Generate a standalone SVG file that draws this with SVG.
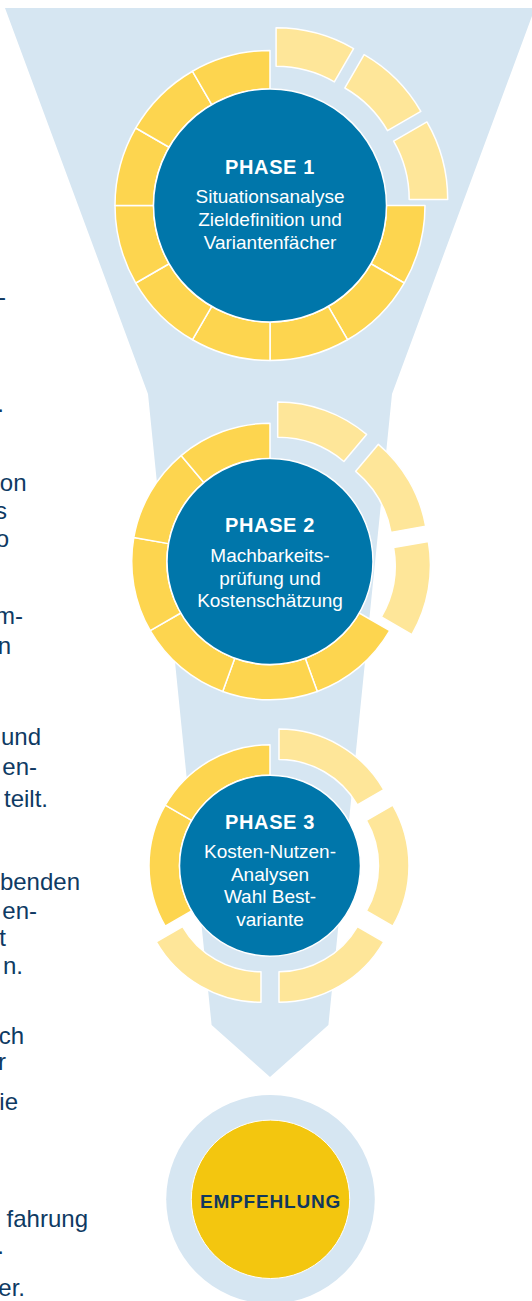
<svg xmlns="http://www.w3.org/2000/svg" xmlns:xlink="http://www.w3.org/1999/xlink" width="532" height="1301" viewBox="0 0 532 1301">
<style>
.funnel{fill:#D6E6F2}
.dark{fill:#FDD54F;stroke:#fff;stroke-width:1.5;stroke-linejoin:round}
.light{fill:#FEE699;stroke:#fff;stroke-width:1.5;stroke-linejoin:round}
.core{fill:#0076AA;stroke:#fff;stroke-width:1.5}
.title{font-family:"Liberation Sans",Arial,sans-serif;font-weight:700;font-size:20px;fill:#fff;text-anchor:middle;letter-spacing:0.6px}
.body{font-family:"Liberation Sans",Arial,sans-serif;font-size:19px;fill:#fff;text-anchor:middle}
.side{font-family:"Liberation Sans",Arial,sans-serif;font-size:24px;fill:#0E3A63;text-anchor:end}
.rec{font-family:"Liberation Sans",Arial,sans-serif;font-weight:700;font-size:19px;fill:#10385E;text-anchor:middle;letter-spacing:0.8px}
</style>
<defs>
<path id="s30" d="M-40.117,-149.719 A155,155 0 0 1 40.117,-149.719 L30.152,-112.530 A116.5,116.5 0 0 0 -30.152,-112.530 Z"/>
<path id="s40" d="M-47.302,-129.960 A138.3,138.3 0 0 1 47.302,-129.960 L35.228,-96.788 A103,103 0 0 0 -35.228,-96.788 Z"/>
<path id="s60" d="M-60.5,-104.789 A121,121 0 0 1 60.5,-104.789 L45.25,-78.375 A90.5,90.5 0 0 0 -45.25,-78.375 Z"/>
</defs>

<g id="connectors">
<path id="funnel" class="funnel" d="M5,8 H535 L392,394 L328.4,1025 L270,1077 L211.6,1025 L148,394 Z"/>
</g>

<g id="side-text">
<text class="side" x="6" y="305">-</text>
<text class="side" x="4" y="412">.</text>
<text class="side" x="26.5" y="491">on</text>
<text class="side" x="7" y="519">s</text>
<text class="side" x="9" y="547">o</text>
<text class="side" x="23" y="624">m-</text>
<text class="side" x="11" y="654">n</text>
<text class="side" x="41" y="745">und</text>
<text class="side" x="37" y="775">en-</text>
<text class="side" x="48" y="807">teilt.</text>
<text class="side" x="80" y="890">benden</text>
<text class="side" x="37" y="919">en-</text>
<text class="side" x="6" y="946">t</text>
<text class="side" x="23" y="974">n.</text>
<text class="side" x="24" y="1044">ch</text>
<text class="side" x="6" y="1070">r</text>
<text class="side" x="18" y="1110">ie</text>
<text class="side" x="88" y="1227">fahrung</text>
<text class="side" x="4" y="1254">.</text>
<text class="side" x="25" y="1296">er.</text>
</g>

<g id="phase1" transform="translate(270,205.5)">
<use xlink:href="#s30" href="#s30" class="dark" transform="rotate(105)"/>
<use xlink:href="#s30" href="#s30" class="dark" transform="rotate(135)"/>
<use xlink:href="#s30" href="#s30" class="dark" transform="rotate(165)"/>
<use xlink:href="#s30" href="#s30" class="dark" transform="rotate(195)"/>
<use xlink:href="#s30" href="#s30" class="dark" transform="rotate(225)"/>
<use xlink:href="#s30" href="#s30" class="dark" transform="rotate(255)"/>
<use xlink:href="#s30" href="#s30" class="dark" transform="rotate(285)"/>
<use xlink:href="#s30" href="#s30" class="dark" transform="rotate(315)"/>
<use xlink:href="#s30" href="#s30" class="dark" transform="rotate(345)"/>
<use xlink:href="#s30" href="#s30" class="light" transform="rotate(15) translate(0,-23.5)"/>
<use xlink:href="#s30" href="#s30" class="light" transform="rotate(45) translate(0,-23.5)"/>
<use xlink:href="#s30" href="#s30" class="light" transform="rotate(75) translate(0,-23.5)"/>
<circle class="core" r="116.5"/>
<text class="title" y="-31.5">PHASE 1</text>
<text class="body" y="-3">Situationsanalyse</text>
<text class="body" y="20">Zieldefinition und</text>
<text class="body" y="43">Variantenfächer</text>
</g>

<g id="phase2" transform="translate(270,561.5)">
<use xlink:href="#s40" href="#s40" class="dark" transform="rotate(140)"/>
<use xlink:href="#s40" href="#s40" class="dark" transform="rotate(180)"/>
<use xlink:href="#s40" href="#s40" class="dark" transform="rotate(220)"/>
<use xlink:href="#s40" href="#s40" class="dark" transform="rotate(260)"/>
<use xlink:href="#s40" href="#s40" class="dark" transform="rotate(300)"/>
<use xlink:href="#s40" href="#s40" class="dark" transform="rotate(340)"/>
<use xlink:href="#s40" href="#s40" class="light" transform="rotate(20) translate(0,-22.5)"/>
<use xlink:href="#s40" href="#s40" class="light" transform="rotate(60) translate(0,-22.5)"/>
<use xlink:href="#s40" href="#s40" class="light" transform="rotate(100) translate(0,-22.5)"/>
<circle class="core" r="103"/>
<text class="title" y="-29.8">PHASE 2</text>
<text class="body" y="0.8">Machbarkeits-</text>
<text class="body" y="23">prüfung und</text>
<text class="body" y="45.5">Kostenschätzung</text>
</g>

<g id="phase3" transform="translate(270,865.7)">
<use xlink:href="#s60" href="#s60" class="dark" transform="rotate(270)"/>
<use xlink:href="#s60" href="#s60" class="dark" transform="rotate(330)"/>
<use xlink:href="#s60" href="#s60" class="light" transform="rotate(30) translate(0,-18)"/>
<use xlink:href="#s60" href="#s60" class="light" transform="rotate(90) translate(0,-18)"/>
<use xlink:href="#s60" href="#s60" class="light" transform="rotate(150) translate(0,-18)"/>
<use xlink:href="#s60" href="#s60" class="light" transform="rotate(210) translate(0,-18)"/>
<circle class="core" r="90.5"/>
<text class="title" y="-36.7">PHASE 3</text>
<text class="body" y="-8">Kosten-Nutzen-</text>
<text class="body" y="14.8">Analysen</text>
<text class="body" y="37.6">Wahl Best-</text>
<text class="body" y="60.3">variante</text>
</g>

<g id="empfehlung">
<circle cx="270.5" cy="1199.3" r="104.3" fill="#D6E6F2"/>
<circle cx="270.5" cy="1199.3" r="79.2" fill="#F3C60F" stroke="#fff" stroke-width="1"/>
<text class="rec" x="270.5" y="1208.3">EMPFEHLUNG</text>
</g>
</svg>
